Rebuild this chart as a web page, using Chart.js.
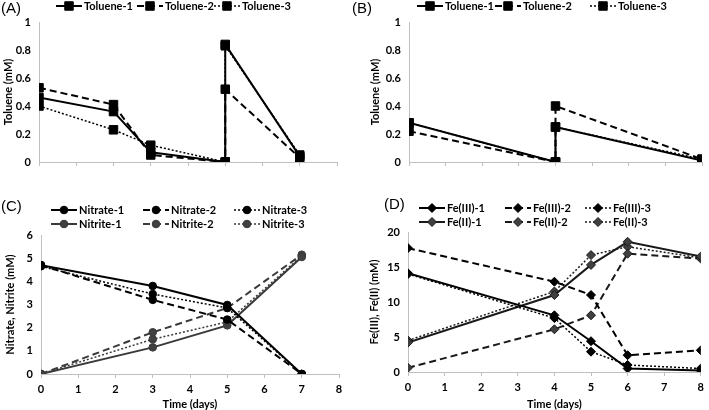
<!DOCTYPE html>
<html>
<head>
<meta charset="utf-8">
<script src="https://cdn.jsdelivr.net/npm/chart.js@4/dist/chart.umd.min.js"></script>
<style>
  body { margin: 0; background: #fff; width: 709px; height: 410px; position: relative; overflow: hidden; }
  .panel { position: absolute; }
  .tag { position: absolute; font: 15px "Liberation Sans", Arial, sans-serif; color: #000; }
</style>
</head>
<body>
<canvas class="panel" id="chartA" width="354" height="195" style="left:0;top:0"></canvas>
<canvas class="panel" id="chartB" width="355" height="195" style="left:354px;top:0"></canvas>
<canvas class="panel" id="chartC" width="354" height="215" style="left:0;top:195px"></canvas>
<canvas class="panel" id="chartD" width="355" height="215" style="left:354px;top:195px"></canvas>
<div class="tag" style="left:1px;top:-1px">(A)</div>
<div class="tag" style="left:352px;top:-1px">(B)</div>
<div class="tag" style="left:1px;top:197px">(C)</div>
<div class="tag" style="left:384px;top:195px">(D)</div>
<script>
// (A) toluene, two additions
const daysA = [0, 2, 3, 5, 5, 7];
const toluA1 = [0.46, 0.36, 0.07, 0, 0.84, 0.04];
const toluA2 = [0.53, 0.41, 0.05, 0, 0.52, 0.03];
const toluA3 = [0.40, 0.23, 0.12, 0, 0.83, 0.05];

// (B) toluene
const daysB = [0, 4, 4, 8];
const toluB1 = [0.28, 0, 0.25, 0.01];
const toluB2 = [0.22, 0, 0.40, 0.02];
const toluB3 = [0.28, 0, 0.25, 0.02];

// (C) nitrate / nitrite
const daysC = [0, 3, 5, 7];
const nitrate1 = [4.7, 3.8, 2.98, 0];
const nitrate2 = [4.7, 3.2, 2.35, 0];
const nitrate3 = [4.65, 3.45, 2.85, 0];
const nitrite1 = [0, 1.15, 2.1, 5.05];
const nitrite2 = [0, 1.8, 2.85, 5.15];
const nitrite3 = [0, 1.5, 2.25, 5.1];

// (D) Fe(III) / Fe(II)
const daysD = [0, 4, 5, 6, 8];
const fe3_1 = [14.1, 8.1, 4.4, 0.5, 0.2];
const fe3_2 = [17.7, 12.9, 11.0, 2.4, 3.1];
const fe3_3 = [14.0, 7.7, 2.9, 1.0, 0.5];
const fe2_1 = [4.2, 11.0, 15.3, 18.6, 16.5];
const fe2_2 = [0.6, 6.1, 8.1, 16.9, 16.2];
const fe2_3 = [4.5, 11.5, 16.7, 17.9, 16.3];

const FONT = "Lato, 'Liberation Sans', sans-serif";
const DASH = { solid: [], dashed: [7, 4], dotted: [2, 2] };

function series(label, xs, ys, style, shape, r, line, fill) {
    return {
        label: label,
        data: xs.map((x, i) => ({ x: x, y: ys[i] })),
        borderColor: line,
        backgroundColor: fill,
        pointBackgroundColor: fill,
        pointBorderColor: line,
        pointBorderWidth: 1,
        borderWidth: style === "dotted" ? 1.5 : 2,
        borderDash: DASH[style],
        pointStyle: shape,
        pointRadius: r,
        tension: 0,
        fill: false
    };
}

function marker(ctx, shape, x, y, r) {
    ctx.beginPath();
    if (shape === "rect") {
        const s = r / Math.SQRT2;
        ctx.rect(x - s, y - s, 2 * s, 2 * s);
    } else if (shape === "rectRot") {
        ctx.moveTo(x - r, y); ctx.lineTo(x, y - r); ctx.lineTo(x + r, y); ctx.lineTo(x, y + r); ctx.closePath();
    } else {
        ctx.arc(x, y, r, 0, Math.PI * 2);
    }
    ctx.fill();
    ctx.stroke();
}

// Excel-style legend: line sample with marker, then text
const legendRows = {
    id: "legendRows",
    afterDraw(chart, args, opts) {
        const ctx = chart.ctx;
        chart.data.datasets.forEach((ds, i) => {
            const x = opts.cols[i % opts.cols.length];
            const y = opts.rows[Math.floor(i / opts.cols.length)];
            ctx.save();
            ctx.strokeStyle = ds.borderColor;
            ctx.lineWidth = ds.borderWidth;
            ctx.setLineDash(ds.borderDash);
            ctx.beginPath();
            ctx.moveTo(x, y);
            ctx.lineTo(x + 26, y);
            ctx.stroke();
            ctx.setLineDash([]);
            ctx.lineWidth = 1;
            ctx.fillStyle = ds.pointBackgroundColor;
            marker(ctx, ds.pointStyle, x + 13, y, ds.pointRadius);
            ctx.fillStyle = "#000";
            ctx.font = "bold 11px " + FONT;
            ctx.textBaseline = "middle";
            ctx.fillText(ds.label, x + 28, y + 0.5);
            ctx.restore();
        });
    }
};

function makeChart(id, datasets, o) {
    return new Chart(document.getElementById(id), {
        type: "line",
        data: { datasets: datasets },
        options: {
            responsive: false,
            animation: false,
            devicePixelRatio: 1,
            events: [],
            layout: { padding: o.padding },
            plugins: {
                legend: { display: false },
                tooltip: { enabled: false },
                legendRows: { cols: o.cols, rows: o.rows }
            },
            scales: {
                x: {
                    type: "linear",
                    min: 0,
                    max: 8,
                    afterFit: s => { s.height = o.xh; },
                    ticks: { display: o.xLabels, stepSize: 1, padding: 5, color: "#000", font: { family: FONT, size: 11, weight: "bold" } },
                    grid: { drawOnChartArea: false, drawTicks: true, tickLength: 4, color: "#bfbfbf" },
                    border: { display: true, color: "#bfbfbf" },
                    title: { display: o.xLabels, text: "Time (days)", color: "#000", padding: 0, font: { family: FONT, size: 11, weight: "bold", lineHeight: 1 } }
                },
                y: {
                    min: 0,
                    max: o.ymax,
                    afterFit: s => { s.width = o.yw; },
                    ticks: {
                        stepSize: o.step, padding: 8, color: "#000",
                        font: { family: FONT, size: 11, weight: "bold" },
                        callback: v => String(Math.round(v * 10) / 10)
                    },
                    grid: { display: false, drawTicks: false },
                    border: { display: true, color: "#bfbfbf" },
                    title: { display: true, text: o.ytitle, color: "#000", padding: 0, font: { family: FONT, size: 11, weight: "bold" } }
                }
            }
        },
        plugins: [legendRows]
    });
}

const BLACK = "#000000";
const GREY_LINE = "#3a3a3a";
const GREY_FILL = "#404040";

makeChart("chartA", [
    series("Toluene-1", daysA, toluA1, "solid", "rect", 6, BLACK, BLACK),
    series("Toluene-2", daysA, toluA2, "dashed", "rect", 6, BLACK, BLACK),
    series("Toluene-3", daysA, toluA3, "dotted", "rect", 6, BLACK, BLACK)
], { padding: { left: 2, right: 17, top: 22, bottom: 0 }, yw: 37, xh: 33, ymax: 1, step: 0.2, ytitle: "Toluene (mM)", xLabels: false, cols: [56, 137, 214], rows: [6] });

makeChart("chartB", [
    series("Toluene-1", daysB, toluB1, "solid", "rect", 6, BLACK, BLACK),
    series("Toluene-2", daysB, toluB2, "dashed", "rect", 6, BLACK, BLACK),
    series("Toluene-3", daysB, toluB3, "dotted", "rect", 6, BLACK, BLACK)
], { padding: { left: 15, right: 6, top: 22, bottom: 0 }, yw: 40, xh: 33, ymax: 1, step: 0.2, ytitle: "Toluene (mM)", xLabels: false, cols: [63, 141, 236], rows: [6] });

makeChart("chartC", [
    series("Nitrate-1", daysC, nitrate1, "solid", "circle", 3.8, BLACK, BLACK),
    series("Nitrate-2", daysC, nitrate2, "dashed", "circle", 3.8, BLACK, BLACK),
    series("Nitrate-3", daysC, nitrate3, "dotted", "circle", 3.8, BLACK, BLACK),
    series("Nitrite-1", daysC, nitrite1, "solid", "circle", 3.8, GREY_LINE, GREY_FILL),
    series("Nitrite-2", daysC, nitrite2, "dashed", "circle", 3.8, GREY_LINE, GREY_FILL),
    series("Nitrite-3", daysC, nitrite3, "dotted", "circle", 3.8, GREY_LINE, GREY_FILL)
], { padding: { left: 4, right: 15, top: 40, bottom: 0 }, yw: 37, xh: 36, ymax: 6, step: 1, ytitle: "Nitrate, Nitrite (mM)", xLabels: true, cols: [51, 143, 234], rows: [15, 29] });

makeChart("chartD", [
    series("Fe(III)-1", daysD, fe3_1, "solid", "rectRot", 4.5, BLACK, BLACK),
    series("Fe(III)-2", daysD, fe3_2, "dashed", "rectRot", 4.5, BLACK, BLACK),
    series("Fe(III)-3", daysD, fe3_3, "dotted", "rectRot", 4.5, BLACK, BLACK),
    series("Fe(II)-1", daysD, fe2_1, "solid", "rectRot", 4.5, "#1a1a1a", GREY_FILL),
    series("Fe(II)-2", daysD, fe2_2, "dashed", "rectRot", 4.5, "#1a1a1a", GREY_FILL),
    series("Fe(II)-3", daysD, fe2_3, "dotted", "rectRot", 4.5, "#1a1a1a", GREY_FILL)
], { padding: { left: 14, right: 5, top: 37, bottom: 0 }, yw: 40, xh: 38, ymax: 20, step: 5, ytitle: "Fe(III), Fe(II) (mM)", xLabels: true, cols: [65, 151, 231], rows: [13, 27] });
</script>
</body>
</html>
